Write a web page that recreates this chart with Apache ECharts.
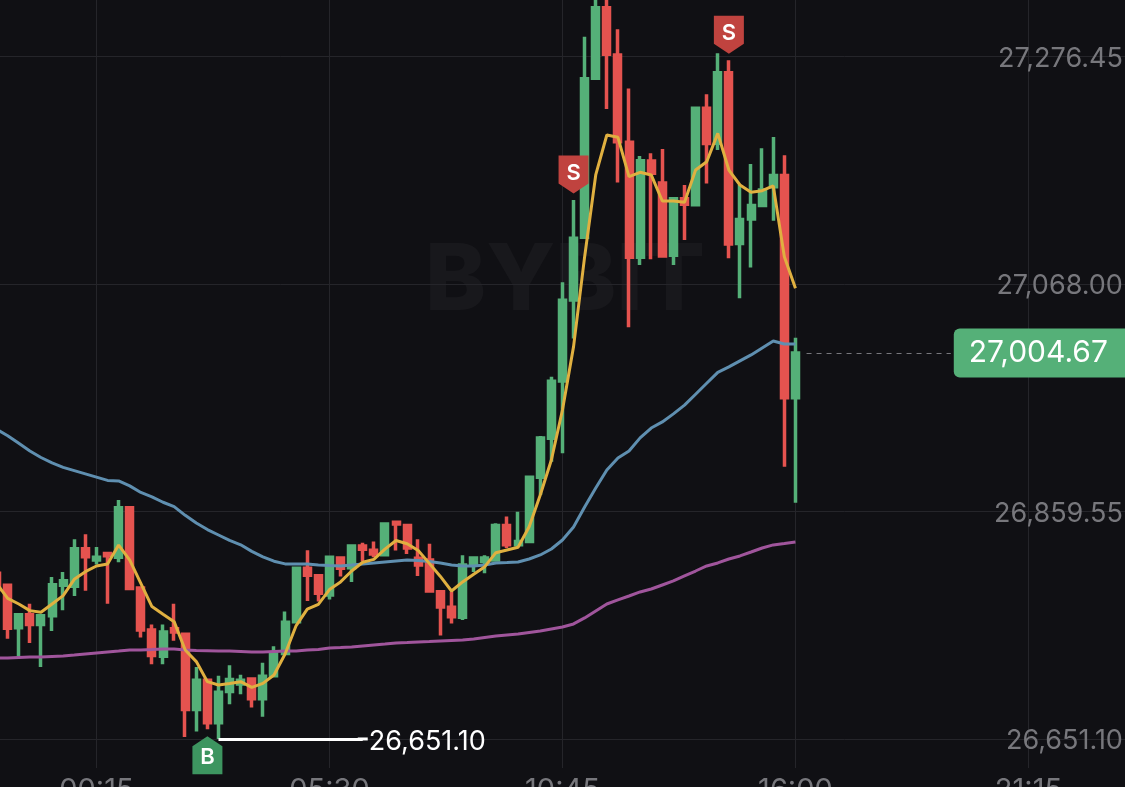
<!DOCTYPE html>
<html>
<head>
<meta charset="utf-8">
<style>html,body{margin:0;padding:0;background:#101014;overflow:hidden}#c{width:1125px;height:787px}</style>
<script src="https://cdn.jsdelivr.net/npm/echarts@6/dist/echarts.min.js"></script>
</head>
<body>
<div id="c"></div>
<script>
// [open, close, low, high], 15-minute candles beginning 22:00
const candles = [
[26803,26788,26785,26806],[26792,26752.5,26743,26792],[26753,26765,26727,26765],[26765,26756,26739,26775],
[26756,26764,26717,26764],[26764,26792.5,26750,26799.5],[26792,26796,26769,26804],[26791,26825.5,26782,26834],
[26825.5,26818,26787,26838.6],[26815,26817.5,26811,26827],[26821,26819,26775,26821],[26817.5,26863,26813,26870],
[26863,26789,26788.5,26863],[26789.5,26751,26744,26789.5],[26751,26727.5,26719.5,26756],[26727,26749,26719.5,26756],
[26752,26749,26741,26775],[26747,26678,26653,26747],[26678,26705,26658,26717],[26705,26666,26660,26705],
[26666,26694,26651.1,26709],[26694.5,26705.5,26683,26718.6],[26701.5,26705,26692,26710],[26706,26688,26680,26706],
[26688,26708.5,26671.5,26721],[26709,26729,26708,26736],[26729.5,26758,26729,26768],[26758.5,26807.5,26758,26807.5],
[26807.5,26801,26777.5,26824],[26800.7,26784.6,26777,26801],[26783,26817.5,26779,26819],[26817,26807.5,26800,26817],
[26808,26828,26795,26828],[26828,26825,26813.6,26831],[26824,26820.6,26817.5,26832],[26820,26848,26819,26848],
[26849.6,26848,26823.7,26850.5],[26846.6,26826,26820.6,26846.6],[26816.6,26810.5,26800.4,26834],[26815,26786.7,26786,26830],
[26786,26772,26746,26786],[26771.7,26763,26757,26786],[26762.6,26810.5,26760,26819.4],[26812,26817,26804,26817],
[26813.6,26817,26803,26819.4],[26815,26846.6,26815,26848.7],[26846.6,26829,26826,26855],[26829,26832,26829,26859.4],
[26832,26890.9,26832,26891],[26891,26926.9,26874.7,26928.7],[26926.6,26978.8,26905,26983],[26979,27053,26912.8,27069.5],
[27053.3,27109.8,27018,27145],[27110.8,27256,27110,27294.6],[27256.4,27321,27256,27335],[27321,27278.4,27228.3,27335],
[27277.8,27198.4,27161,27301.3],[27197.8,27092.4,27028.3,27247],[27092.4,27181,27085.4,27185.3],[27180.7,27169.4,27090.6,27187.7],
[27160.5,27093.7,27092.4,27191.7],[27094.3,27146.2,27085.4,27146.2],[27146.2,27141,27108.3,27158.7],[27140.7,27229,27140.7,27229],
[27229,27196.6,27160,27241.8],[27197,27261.6,27190.8,27279.3],[27261.6,27104.6,27091.5,27273],[27105,27127,27055,27158.7],
[27127.6,27139.8,27083,27178],[27139.8,27154,27139.8,27192.3],[27157,27167.3,27126,27202.7],[27167.3,26963.8,26900.6,27186],
[26963.8,27004.67,26867.6,27018.8]
];
const maFast = [
26793.7,26780,26774.8,26768.7,26767.2,26774.8,26782.4,26797.4,26804.4,26809.6,26811.4,26828.8,26815,26793.7,26772.4,26765.4,
26758.6,26732.6,26722,26703.6,26700.6,26702,26703.6,26698.4,26702,26709.7,26729,26755,26770,26774.5,26788,26795,
26805,26813,26815.7,26825,26833,26830,26823.7,26812,26800,26786.7,26795,26802,26809,26821.8,26824.3,26826.7,
26845.6,26874.7,26906.7,26952.5,27010.6,27093,27167.9,27204.5,27202.4,27166.3,27170.3,27167.9,27144,27144,27142.8,27172.4,
27180,27206,27172.4,27158.7,27152,27153.5,27157.8,27093,27064
];
const maMid = [
26935,26929,26922,26915,26909,26904,26900,26897,26894,26891,26888,26887.5,26883,26877,26873,26868,
26864,26856,26849,26843,26838,26833,26829,26823,26818,26814,26811.5,26811.5,26811.5,26810.5,26810,26809.6,
26810.5,26811.5,26812.4,26813.3,26814.2,26815,26814.7,26813.7,26812.4,26810.5,26809.6,26809.6,26810.5,26812.4,26812.8,26813.3,
26816,26819.7,26825.2,26833.4,26845.4,26863.7,26881,26897.6,26908.6,26915,26927,26936,26941.6,26949,26957,26967,
26977,26987,26992,26997.5,27003,27009.4,27015.8,27013,27013
];
const maSlow = [
26725.3,26725.3,26725.8,26726.2,26726.2,26726.7,26727.1,26728,26729,26729.9,26730.8,26731.7,26732.7,26732.7,26733.1,26733.6,
26733.6,26732.7,26732.2,26732,26731.7,26731.7,26731.3,26730.8,26730.8,26731.3,26731.7,26731.7,26732.7,26733.1,26734.5,26734.9,
26735.4,26736.3,26737.2,26738.1,26739.1,26739.5,26740,26740.4,26740.9,26741.4,26741.8,26742.7,26744.1,26745.5,26746.4,26747.3,
26748.7,26750.1,26751.9,26753.7,26756.5,26762,26768.4,26774.8,26778.5,26782.1,26785.8,26788.5,26792.2,26795.9,26800.5,26805,
26809.6,26812.4,26816,26818.8,26822.4,26826.1,26828.9,26830.2,26831.6
];
const priceTicks = [26651.10, 26859.55, 27068.00, 27276.45];
const timeLabels = ['00:15', '05:30', '10:45', '16:00', '21:15'];
const lastPrice = 27004.67;
const lowPrice = 26651.10;
// candle index and price of each trade badge
const buys = [[19, 26660]];
const sells = [[52, 27145], [66, 27273]];

const categories = [];
for (let i = 0; i < 104; i++) {
  const m = (22 * 60 + i * 15) % 1440;
  categories.push(String(Math.floor(m / 60)).padStart(2, '0') + ':' + String(m % 60).padStart(2, '0'));
}
const isTick = (i, v) => timeLabels.includes(v);
const fmt = v => v.toLocaleString('en-US', {minimumFractionDigits: 2, maximumFractionDigits: 2});
const FONT = 'Inter, "Noto Sans", sans-serif';
const UP = '#55b078', DOWN = '#e5534f', GRID = '#25252a', TXT = '#77777c';

const downPin = 'path://M0,0 L30,0 L30,28 L15,38 L0,28 Z';
const upPin = 'path://M15,0 L30,10 L30,38 L0,38 L0,10 Z';
const lineOf = (data, color, z) => ({
  type: 'line', data, showSymbol: false, smooth: false, silent: true, z,
  lineStyle: {color, width: 3}, itemStyle: {color}
});

const chart = echarts.init(document.getElementById('c'), null, {renderer: 'canvas'});
chart.setOption({
  animation: false,
  backgroundColor: '#101014',
  graphic: [{
    type: 'text', left: 425, top: 236, silent: true, z: 0,
    style: {text: 'BYBIT', font: '800 92px ' + FONT, fill: 'rgba(255,255,255,0.035)'}
  }],
  grid: {left: -3.4, right: -14.4, top: 0, bottom: 19, outerBoundsMode: 'none'},
  xAxis: {
    type: 'category', data: categories, boundaryGap: false,
    axisLine: {show: false},
    axisTick: {show: false, interval: isTick},
    splitLine: {show: true, interval: isTick, lineStyle: {color: GRID, width: 1}},
    axisLabel: {interval: isTick, margin: 8, color: TXT, fontSize: 29, fontFamily: FONT, hideOverlap: false}
  },
  yAxis: {
    type: 'value', scale: true, min: 26624.5, max: 27328.2, position: 'right',
    axisLine: {show: false},
    axisTick: {show: false, customValues: priceTicks},
    splitLine: {show: true, lineStyle: {color: GRID, width: 1}},
    axisLabel: {inside: true, margin: 16.5, customValues: priceTicks, formatter: fmt, color: TXT, fontSize: 27, fontFamily: FONT, verticalAlign: 'top', lineHeight: 4, showMinLabel: true, showMaxLabel: true}
  },
  series: [
    {
      type: 'candlestick', data: candles, barWidth: 6.5, silent: true, z: 2,
      itemStyle: {color: UP, color0: DOWN, borderColor: UP, borderColor0: DOWN, borderWidth: 3.5},
      markLine: {
        silent: true, symbol: 'none', animation: false,
        data: [
          [
            {coord: [73, lastPrice], lineStyle: {color: '#77777c', width: 1, type: [5, 5]},
             label: {show: true, position: 'end', distance: 3, formatter: fmt(lastPrice), color: '#fff', fontSize: 30, fontFamily: FONT,
               backgroundColor: UP, borderRadius: 6, padding: [12, 30, 7, 15]}},
            {coord: [86, lastPrice]}
          ],
          [
            {coord: [20, lowPrice], lineStyle: {color: '#fff', width: 3, type: 'solid'},
             label: {show: true, position: 'end', distance: 6, verticalAlign: 'top', lineHeight: 6, formatter: fmt(lowPrice), color: '#fff', fontSize: 27, fontFamily: FONT}},
            {coord: [33, lowPrice], symbol: 'rect', symbolSize: [3, 10]}
          ]
        ]
      },
      markPoint: {
        silent: true, animation: false,
        data: [
          ...sells.map(([i, p]) => ({coord: [i, p], symbol: downPin, symbolSize: [30, 38], symbolOffset: [0, -25.5],
            itemStyle: {color: '#c0433f'},
            label: {show: true, position: 'inside', offset: [0, -1], formatter: 'S', color: '#fff', fontSize: 22, fontWeight: 600, fontFamily: FONT}})),
          ...buys.map(([i, p]) => ({coord: [i, p], symbol: upPin, symbolSize: [30, 38], symbolOffset: [0, 26],
            itemStyle: {color: '#3d9560'},
            label: {show: true, position: 'inside', offset: [0, 2], formatter: 'B', color: '#fff', fontSize: 22, fontWeight: 600, fontFamily: FONT}}))
        ]
      }
    },
    lineOf(maSlow, '#a0559c', 3),
    lineOf(maMid, '#5f8fb0', 4),
    lineOf(maFast, '#e0b040', 5)
  ]
});
</script>
</body>
</html>
